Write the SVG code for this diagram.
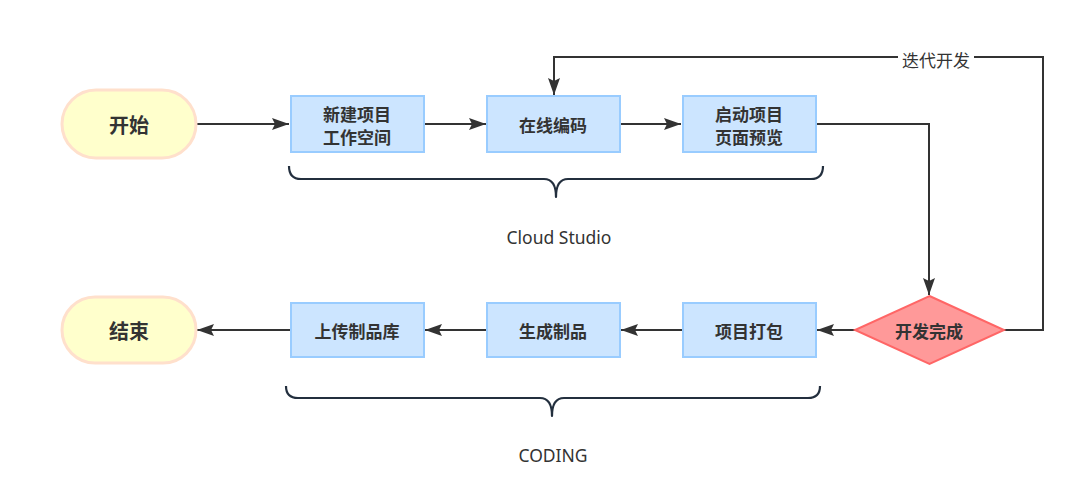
<svg xmlns="http://www.w3.org/2000/svg" width="1080" height="495" viewBox="0 0 1080 495">
<style>
.pill{fill:#FFFFCC;stroke:#FFE0CC;stroke-width:3}
.box{fill:#CCE5FF;stroke:#99CCFF;stroke-width:2}
.dia{fill:#FF9999;stroke:#FF6666;stroke-width:2}
.t{font-family:"Noto Sans CJK SC","Noto Sans",sans-serif;fill:#333333;text-anchor:middle;dominant-baseline:central}
.tb{font-size:17px;font-weight:bold}
.tl{font-size:20px;font-weight:bold}
.lbl{font-family:"Noto Sans","Noto Sans CJK SC",sans-serif;font-size:17.5px;fill:#333333;text-anchor:middle;dominant-baseline:central}
.edge{fill:none;stroke:#333333;stroke-width:2}
.brace{fill:none;stroke:#232F3E;stroke-width:2.2;stroke-linejoin:round}
</style>
<defs>
<marker id="arr" markerUnits="userSpaceOnUse" markerWidth="18" markerHeight="12" refX="17" refY="6" orient="auto">
<path d="M0,0 L17,6 L0,12 L3,6 Z" fill="#333333"/>
</marker>
</defs>
<rect width="1080" height="495" fill="#FFFFFF"/>
<g id="connectors">
<path class="edge" d="M196,124 H289" marker-end="url(#arr)"/>
<path class="edge" d="M424,124 H486" marker-end="url(#arr)"/>
<path class="edge" d="M620,124 H681" marker-end="url(#arr)"/>
<path class="edge" d="M816,124 H929 V295" marker-end="url(#arr)"/>
<path class="edge" d="M1004,330 H1043 V57 H554 V95" marker-end="url(#arr)"/>
<path class="edge" d="M855,330 H817" marker-end="url(#arr)"/>
<path class="edge" d="M682,330 H621" marker-end="url(#arr)"/>
<path class="edge" d="M486,330 H425" marker-end="url(#arr)"/>
<path class="edge" d="M290,330 H197" marker-end="url(#arr)"/>
<rect x="898" y="48" width="76" height="20" fill="#FFFFFF"/>
<text class="t" x="936" y="59" font-size="17">迭代开发</text>
</g>
<g id="start">
<rect class="pill" x="62" y="90" width="134" height="68" rx="34" ry="34"/>
<text class="t tl" x="129" y="124">开始</text>
</g>
<g id="n1">
<rect class="box" x="291" y="96" width="133" height="56"/>
<text class="t tb" x="357" y="113">新建项目</text>
<text class="t tb" x="357" y="136">工作空间</text>
</g>
<g id="n2">
<rect class="box" x="487" y="96" width="133" height="56"/>
<text class="t tb" x="553" y="124">在线编码</text>
</g>
<g id="n3">
<rect class="box" x="683" y="96" width="133" height="56"/>
<text class="t tb" x="749" y="113">启动项目</text>
<text class="t tb" x="749" y="136">页面预览</text>
</g>
<g id="decision">
<polygon class="dia" points="929.5,296 1004,330 929.5,364 855,330"/>
<text class="t tb" x="929" y="330">开发完成</text>
</g>
<g id="n4">
<rect class="box" x="683" y="303" width="133" height="54"/>
<text class="t tb" x="749" y="330">项目打包</text>
</g>
<g id="n5">
<rect class="box" x="487" y="303" width="133" height="54"/>
<text class="t tb" x="553" y="330">生成制品</text>
</g>
<g id="n6">
<rect class="box" x="291" y="303" width="133" height="54"/>
<text class="t tb" x="357" y="330">上传制品库</text>
</g>
<g id="end">
<rect class="pill" x="62" y="297" width="134" height="66" rx="33" ry="33"/>
<text class="t tl" x="129" y="330">结束</text>
</g>
<g id="brace-cloud">
<path class="brace" d="M289,166 Q289,179 301,179 L544,179 Q556,179 556,197 Q556,179 568,179 L811,179 Q823,179 823,166"/>
<text class="lbl" x="559" y="237">Cloud Studio</text>
</g>
<g id="brace-coding">
<path class="brace" d="M286,386 Q286,398 298,398 L540,398 Q552,398 552,416 Q552,398 564,398 L808,398 Q820,398 820,386"/>
<text class="lbl" x="553" y="455">CODING</text>
</g>
</svg>
